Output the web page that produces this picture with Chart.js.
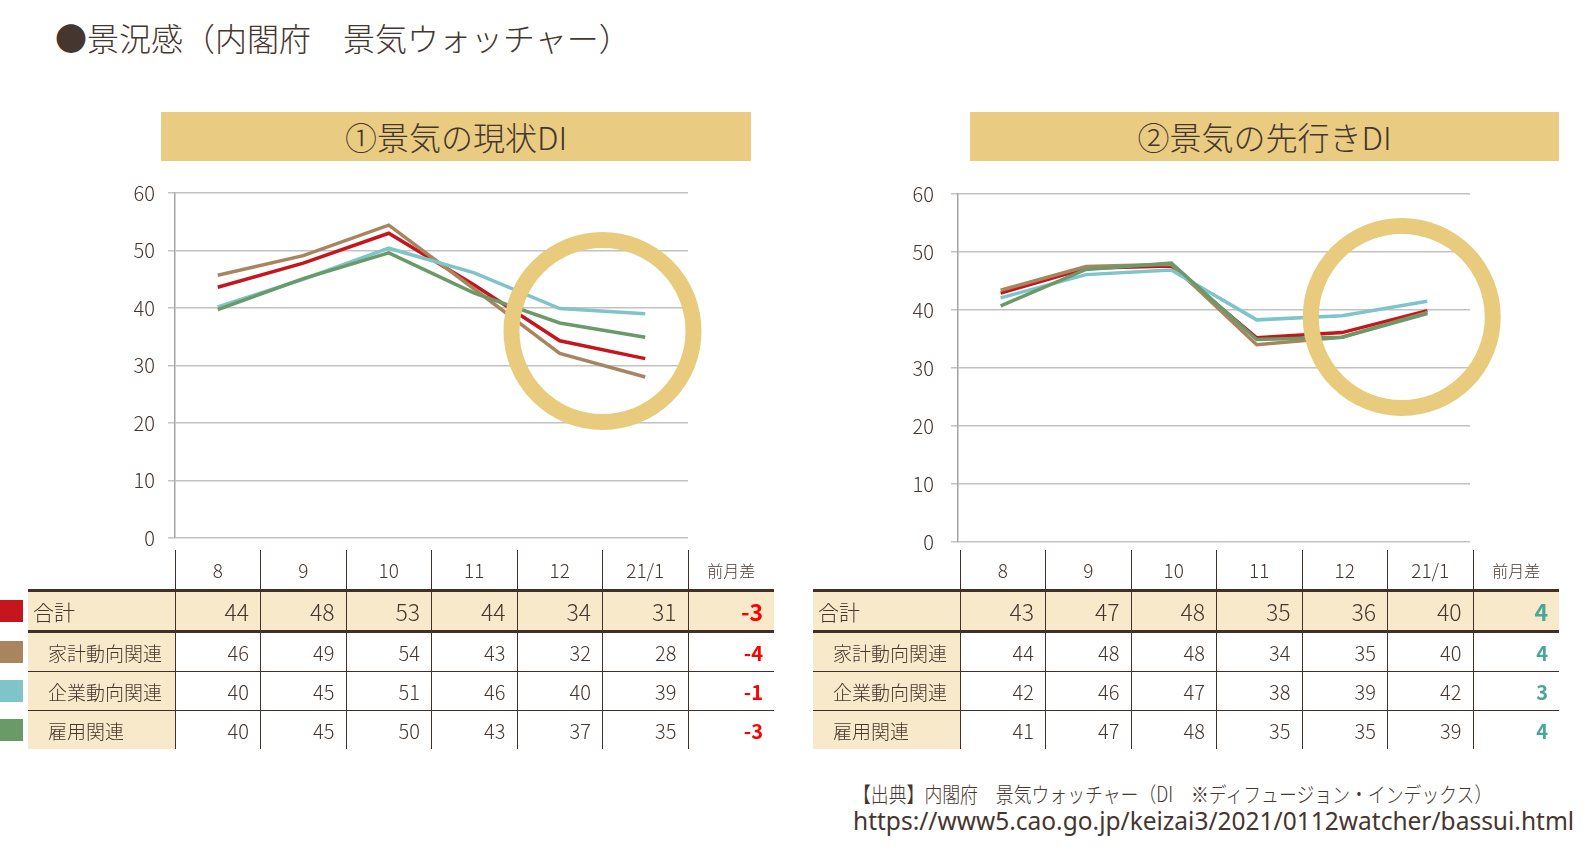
<!DOCTYPE html>
<html lang="ja">
<head>
<meta charset="utf-8">
<title>景況感（内閣府　景気ウォッチャー）</title>
<script src="https://cdn.jsdelivr.net/npm/chart.js@4.4.1/dist/chart.umd.min.js"></script>
<style>
  body {
    margin: 0; width: 1596px; height: 850px; position: relative; overflow: hidden;
    background: #fff; color: #45362f; font-weight: 300;
    font-family: 'Noto Sans CJK JP', 'Noto Sans', sans-serif;
  }
  .abs { position: absolute; white-space: nowrap; }
  #title { left: 55px; top: 14px; font-size: 32px; line-height: 46px; }
  .head { top: 112px; height: 49px; background: #e9cc81; font-size: 32px; line-height: 49px; text-align: center; }
  canvas { position: absolute; }
  table { position: absolute; border-collapse: collapse; table-layout: fixed; }
  td { height: 38px; padding: 0 11px 0 0; text-align: right; font-size: 20px; border-left: 1px solid #3f302a; }
  td.lab { border-left: none; text-align: left; padding-left: 20px; font-size: 19px; background: #f7e9ca; }
  tr.hd td { text-align: center; padding: 0; font-size: 19px; height: 39px; }
  tr.hd td.lab { background: #fff; }
  tr.hd td.dh { font-size: 16px; }
  tr.tot td { background: #f7e9ca; font-size: 23px; border-top: 3px solid #3f302a; border-bottom: 3px solid #3f302a; }
  tr.tot td.lab { padding-left: 5px; font-size: 21px; }
  tr.sub td { border-bottom: 1.5px solid #3f302a; }
  tr.sub:last-child td { border-bottom: none; }
  td.diff { font-weight: bold; }
  .sq { width: 23px; height: 22px; left: 0; }
  #src { left: 853px; top: 780px; font-size: 21px; line-height: 27px; }
  #src span { display: block; transform-origin: left center; }
</style>
</head>
<body>
<div id="title" class="abs">●景況感（内閣府　景気ウォッチャー）</div>

<div class="abs head" style="left:161px; width:590px;">①景気の現状DI</div>
<div class="abs head" style="left:970px; width:589px;">②景気の先行きDI</div>

<canvas id="nowChart" width="620" height="395" style="left:95px; top:168px;"></canvas>
<canvas id="futureChart" width="640" height="406" style="left:878px; top:165px;"></canvas>

<table id="nowTable" style="left:28px; top:550px;"></table>
<table id="futureTable" style="left:813px; top:550px;"></table>

<div id="src" class="abs">
  <span style="transform:scaleX(0.85)">【出典】内閣府　景気ウォッチャー（DI　※ディフュージョン・インデックス）</span>
  <span style="font-family:'Noto Sans', sans-serif; font-size:24.5px; font-weight:400;">https://www5.cao.go.jp/keizai3/2021/0112watcher/bassui.html</span>
</div>

<script>
// categories
const months = ['8', '9', '10', '11', '12', '21/1'];
const seriesNames = ['合計', '家計動向関連', '企業動向関連', '雇用関連'];

// ① 現状DI - line values
const nowTotal = [43.6, 47.8, 53.0, 44.0, 34.3, 31.2];
const nowHousehold = [45.7, 49.1, 54.4, 43.3, 32.1, 28.0];
const nowCorporate = [40.2, 45.0, 50.4, 46.1, 39.9, 39.0];
const nowEmployment = [39.7, 45.1, 49.6, 42.6, 37.4, 34.9];

// ② 先行きDI - line values
const futTotal = [42.9, 47.2, 47.6, 35.2, 36.1, 39.9];
const futHousehold = [43.4, 47.5, 47.9, 34.0, 35.3, 39.6];
const futCorporate = [42.1, 46.1, 46.9, 38.3, 39.0, 41.5];
const futEmployment = [40.7, 47.0, 48.1, 34.9, 35.3, 39.4];

// table values (rounded, as printed)
const nowTable = [
  [44, 48, 53, 44, 34, 31],
  [46, 49, 54, 43, 32, 28],
  [40, 45, 51, 46, 40, 39],
  [40, 45, 50, 43, 37, 35]
];
const nowDiff = ['-3', '-4', '-1', '-3'];
const futTable = [
  [43, 47, 48, 35, 36, 40],
  [44, 48, 48, 34, 35, 40],
  [42, 46, 47, 38, 39, 42],
  [41, 47, 48, 35, 35, 39]
];
const futDiff = ['4', '4', '3', '4'];

// y axis ticks
const yMin = 0, yMax = 60, yStep = 10;

const lineColors = ['#c4161c', '#a8855f', '#7fc4c9', '#6b9a69'];
const ringColor = '#e9cb7e';
const textColor = '#45362f';

Chart.defaults.font.family = "'Noto Sans CJK JP', sans-serif";
Chart.defaults.color = textColor;

// draws the highlight ring over the lines
const ringPlugin = {
  id: 'ring',
  afterDatasetsDraw(chart, args, opts) {
    const { ctx, scales } = chart;
    ctx.save();
    ctx.beginPath();
    ctx.arc(scales.x.getPixelForValue(opts.at[0]), scales.y.getPixelForValue(opts.at[1]),
      opts.radius, 0, Math.PI * 2);
    ctx.lineWidth = opts.width;
    ctx.strokeStyle = ringColor;
    ctx.stroke();
    ctx.restore();
  }
};

function makeChart(id, series, ringAt, padRight, tickPad) {
  return new Chart(document.getElementById(id), {
    type: 'line',
    data: {
      labels: months,
      datasets: series.map((d, i) => ({
        label: seriesNames[i],
        data: d,
        borderColor: lineColors[i],
        borderWidth: 3.5,
        pointRadius: 0,
        tension: 0,
        order: series.length - i
      }))
    },
    options: {
      responsive: false,
      animation: false,
      // top/bottom space comes from the tick label padding
      layout: { padding: { left: 0, right: padRight, top: 0, bottom: 0 } },
      plugins: {
        legend: { display: false },
        tooltip: { enabled: false },
        ring: { at: ringAt, radius: 91, width: 16 }
      },
      scales: {
        x: { display: false, offset: true },
        y: {
          min: yMin, max: yMax,
          afterFit: (s) => { s.width = 80; },
          ticks: { stepSize: yStep, padding: tickPad, font: { size: 20, weight: 300 }, color: textColor },
          grid: { color: '#c2c2c2', lineWidth: 1.5, tickLength: 7 },
          border: { color: '#a8a2a2', width: 1.5 }
        }
      }
    },
    plugins: [ringPlugin]
  });
}

makeChart('nowChart', [nowTotal, nowHousehold, nowCorporate, nowEmployment], [4.5, 36], 27, 13);
makeChart('futureChart', [futTotal, futHousehold, futCorporate, futEmployment], [4.7, 38.8], 48, 17);

function buildTable(id, values, diffs, diffColor, squares) {
  const table = document.getElementById(id);
  const widths = [147, 85.5, 85.5, 85.5, 85.5, 85.5, 85.5, 86];
  const cg = document.createElement('colgroup');
  widths.forEach(w => { const c = document.createElement('col'); c.style.width = w + 'px'; cg.appendChild(c); });
  table.appendChild(cg);

  let html = '<tr class="hd"><td class="lab"></td>' +
    months.map(m => '<td>' + m + '</td>').join('') + '<td class="dh">前月差</td></tr>';
  values.forEach((row, r) => {
    html += '<tr class="' + (r === 0 ? 'tot' : 'sub') + '"><td class="lab">' + seriesNames[r] + '</td>' +
      row.map(v => '<td>' + v + '</td>').join('') +
      '<td class="diff" style="color:' + diffColor + '">' + diffs[r] + '</td></tr>';
  });
  table.insertAdjacentHTML('beforeend', html);

  if (squares) {
    table.querySelectorAll('tr').forEach((tr, r) => {
      if (r === 0) return;
      const b = tr.getBoundingClientRect();
      const sq = document.createElement('div');
      sq.className = 'abs sq';
      sq.style.top = (b.top + b.height / 2 - 11) + 'px';
      sq.style.background = lineColors[r - 1];
      document.body.appendChild(sq);
    });
  }
}

buildTable('nowTable', nowTable, nowDiff, '#ff0000', true);
buildTable('futureTable', futTable, futDiff, '#49a698', false);
</script>
</body>
</html>
